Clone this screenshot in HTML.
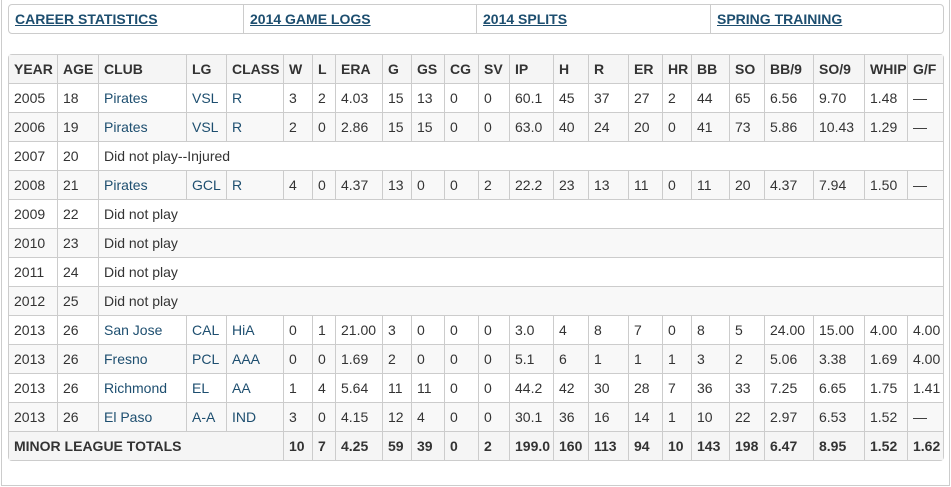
<!DOCTYPE html>
<html><head><meta charset="utf-8">
<style>
html,body{margin:0;padding:0;background:#fff;width:951px;height:487px;overflow:hidden;font-family:"Liberation Sans",Arial,sans-serif;}
#outer{position:absolute;left:1px;top:-2px;width:947px;height:486px;border:1px solid #ccc;}
#nav{position:absolute;left:8px;top:4px;width:934px;height:28px;border:1px solid #ccc;border-radius:4px;display:flex;}
#nav a{display:block;box-sizing:border-box;height:28px;line-height:28px;padding-left:6px;color:#1d4e6f;font-weight:bold;font-size:14px;text-decoration:underline;border-right:1px solid #ccc;}
#nav a:last-child{border-right:none;}
table{position:absolute;left:8px;top:54px;border-collapse:separate;border-spacing:0;table-layout:fixed;width:936px;font-size:14px;color:#333;border:1px solid #ccc;border-radius:4px;}
td,th{height:28px;padding:0 0 0 5px;border-left:1px solid #ccc;border-top:1px solid #ccc;white-space:nowrap;overflow:hidden;text-align:left;}
tr td:first-child,tr th:first-child{border-left:none;}
thead th{border-top:none;font-weight:bold;background:#f5f5f5;}
tbody tr:nth-child(even) td{background:#f8f8f8;}
tr.tot td{font-weight:bold;background:#f5f5f5 !important;}
.l{color:#1d4e6f;}
</style></head><body>
<div id="outer"></div>
<div id="nav">
<a style="width:235px">CAREER STATISTICS</a>
<a style="width:233px">2014 GAME LOGS</a>
<a style="width:234px">2014 SPLITS</a>
<a style="width:232px">SPRING TRAINING</a>
</div>
<table>
<colgroup>
<col style="width:48px"><col style="width:41px"><col style="width:88px"><col style="width:40px"><col style="width:57px"><col style="width:29px"><col style="width:23px"><col style="width:47px"><col style="width:29px"><col style="width:33px"><col style="width:34px"><col style="width:31px"><col style="width:44px"><col style="width:35px"><col style="width:40px"><col style="width:34px"><col style="width:29px"><col style="width:38px"><col style="width:35px"><col style="width:49px"><col style="width:51px"><col style="width:43px"><col style="width:36px">
</colgroup>
<thead><tr><th>YEAR</th><th>AGE</th><th>CLUB</th><th>LG</th><th>CLASS</th><th>W</th><th>L</th><th>ERA</th><th>G</th><th>GS</th><th>CG</th><th>SV</th><th>IP</th><th>H</th><th>R</th><th>ER</th><th>HR</th><th>BB</th><th>SO</th><th>BB/9</th><th>SO/9</th><th>WHIP</th><th>G/F</th></tr></thead>
<tbody>
<tr><td>2005</td><td>18</td><td class="l">Pirates</td><td class="l">VSL</td><td class="l">R</td><td>3</td><td>2</td><td>4.03</td><td>15</td><td>13</td><td>0</td><td>0</td><td>60.1</td><td>45</td><td>37</td><td>27</td><td>2</td><td>44</td><td>65</td><td>6.56</td><td>9.70</td><td>1.48</td><td>—</td></tr>
<tr><td>2006</td><td>19</td><td class="l">Pirates</td><td class="l">VSL</td><td class="l">R</td><td>2</td><td>0</td><td>2.86</td><td>15</td><td>15</td><td>0</td><td>0</td><td>63.0</td><td>40</td><td>24</td><td>20</td><td>0</td><td>41</td><td>73</td><td>5.86</td><td>10.43</td><td>1.29</td><td>—</td></tr>
<tr><td>2007</td><td>20</td><td colspan="21">Did not play--Injured</td></tr>
<tr><td>2008</td><td>21</td><td class="l">Pirates</td><td class="l">GCL</td><td class="l">R</td><td>4</td><td>0</td><td>4.37</td><td>13</td><td>0</td><td>0</td><td>2</td><td>22.2</td><td>23</td><td>13</td><td>11</td><td>0</td><td>11</td><td>20</td><td>4.37</td><td>7.94</td><td>1.50</td><td>—</td></tr>
<tr><td>2009</td><td>22</td><td colspan="21">Did not play</td></tr>
<tr><td>2010</td><td>23</td><td colspan="21">Did not play</td></tr>
<tr><td>2011</td><td>24</td><td colspan="21">Did not play</td></tr>
<tr><td>2012</td><td>25</td><td colspan="21">Did not play</td></tr>
<tr><td>2013</td><td>26</td><td class="l">San Jose</td><td class="l">CAL</td><td class="l">HiA</td><td>0</td><td>1</td><td>21.00</td><td>3</td><td>0</td><td>0</td><td>0</td><td>3.0</td><td>4</td><td>8</td><td>7</td><td>0</td><td>8</td><td>5</td><td>24.00</td><td>15.00</td><td>4.00</td><td>4.00</td></tr>
<tr><td>2013</td><td>26</td><td class="l">Fresno</td><td class="l">PCL</td><td class="l">AAA</td><td>0</td><td>0</td><td>1.69</td><td>2</td><td>0</td><td>0</td><td>0</td><td>5.1</td><td>6</td><td>1</td><td>1</td><td>1</td><td>3</td><td>2</td><td>5.06</td><td>3.38</td><td>1.69</td><td>4.00</td></tr>
<tr><td>2013</td><td>26</td><td class="l">Richmond</td><td class="l">EL</td><td class="l">AA</td><td>1</td><td>4</td><td>5.64</td><td>11</td><td>11</td><td>0</td><td>0</td><td>44.2</td><td>42</td><td>30</td><td>28</td><td>7</td><td>36</td><td>33</td><td>7.25</td><td>6.65</td><td>1.75</td><td>1.41</td></tr>
<tr><td>2013</td><td>26</td><td class="l">El Paso</td><td class="l">A-A</td><td class="l">IND</td><td>3</td><td>0</td><td>4.15</td><td>12</td><td>4</td><td>0</td><td>0</td><td>30.1</td><td>36</td><td>16</td><td>14</td><td>1</td><td>10</td><td>22</td><td>2.97</td><td>6.53</td><td>1.52</td><td>—</td></tr>
<tr class="tot"><td colspan="5">MINOR LEAGUE TOTALS</td><td>10</td><td>7</td><td>4.25</td><td>59</td><td>39</td><td>0</td><td>2</td><td>199.0</td><td>160</td><td>113</td><td>94</td><td>10</td><td>143</td><td>198</td><td>6.47</td><td>8.95</td><td>1.52</td><td>1.62</td></tr>
</tbody>
</table>
</body></html>
